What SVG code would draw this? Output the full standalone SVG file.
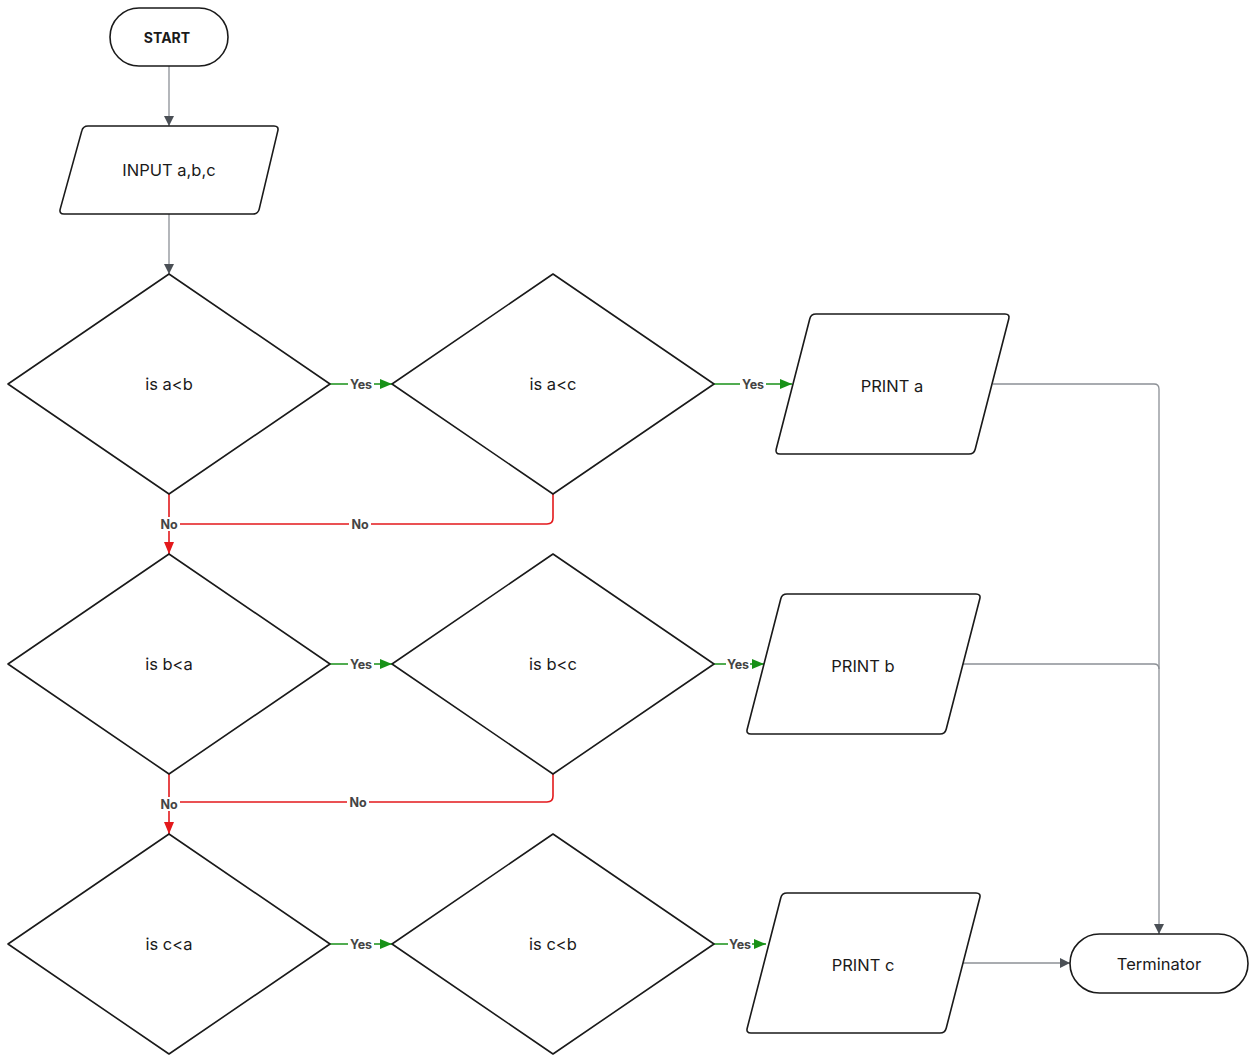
<svg xmlns="http://www.w3.org/2000/svg" width="1256" height="1055" viewBox="0 0 1256 1055">
<defs>
<style>
.node{fill:#fff;stroke:#1a1a1a;stroke-width:1.6;stroke-linejoin:round}
.t{font-family:Inter,"Liberation Sans",sans-serif;font-size:16.5px;fill:#1a1a1a;text-anchor:middle;dominant-baseline:central}
.tb{font-weight:700;font-size:14px}
.g{fill:none;stroke:#8c9096;stroke-width:1.3}
.gr{fill:none;stroke:#179117;stroke-width:1.6}
.rd{fill:none;stroke:#e3191c;stroke-width:1.6}
.lb{font-family:Inter,"Liberation Sans",sans-serif;font-size:12.5px;font-weight:700;fill:#444;text-anchor:middle;dominant-baseline:central}
.bg{fill:#fff}
</style>
<marker id="ag" viewBox="0 0 10 10" refX="10" refY="5" markerWidth="10" markerHeight="10" markerUnits="userSpaceOnUse" orient="auto"><path d="M0,0 L10,5 L0,10 Z" fill="#4a4f55"/></marker>
<marker id="agr" viewBox="0 0 12 10" refX="12" refY="5" markerWidth="12" markerHeight="10" markerUnits="userSpaceOnUse" orient="auto"><path d="M0,0 L12,5 L0,10 Z" fill="#179117"/></marker>
<marker id="ard" viewBox="0 0 12 10" refX="12" refY="5" markerWidth="12" markerHeight="10" markerUnits="userSpaceOnUse" orient="auto"><path d="M0,0 L12,5 L0,10 Z" fill="#e3191c"/></marker>
</defs>
<rect width="1256" height="1055" fill="#fff"/>
<g id="connectors">
<path class="g" d="M169,66 V126" marker-end="url(#ag)"/>
<path class="g" d="M169,214 V274" marker-end="url(#ag)"/>
<path class="gr" d="M330,384 H392" marker-end="url(#agr)"/>
<path class="gr" d="M714,384 H792" marker-end="url(#agr)"/>
<path class="g" d="M993,384 H1154 Q1159,384 1159,389 V934" marker-end="url(#ag)"/>
<path class="rd" d="M169,494 V554" marker-end="url(#ard)"/>
<path class="rd" d="M553,494 V518 Q553,524 547,524 H169"/>
<path class="gr" d="M330,664 H392" marker-end="url(#agr)"/>
<path class="gr" d="M714,664 H764" marker-end="url(#agr)"/>
<path class="g" d="M963,664 H1154 Q1159,664 1159,669"/>
<path class="rd" d="M169,774 V834" marker-end="url(#ard)"/>
<path class="rd" d="M553,774 V796 Q553,802 547,802 H169"/>
<path class="gr" d="M330,944 H392" marker-end="url(#agr)"/>
<path class="gr" d="M714,944 H766" marker-end="url(#agr)"/>
<path class="g" d="M962,963 H1070" marker-end="url(#ag)"/>
<rect class="bg" x="348" y="377" width="26" height="14"/><text class="lb" x="361" y="384">Yes</text>
<rect class="bg" x="740" y="377" width="26" height="14"/><text class="lb" x="753" y="384">Yes</text>
<rect class="bg" x="158" y="517" width="22" height="14"/><text class="lb" x="169" y="524">No</text>
<rect class="bg" x="349" y="517" width="22" height="14"/><text class="lb" x="360" y="524">No</text>
<rect class="bg" x="348" y="657" width="26" height="14"/><text class="lb" x="361" y="664">Yes</text>
<rect class="bg" x="726" y="657" width="24" height="14"/><text class="lb" x="738" y="664">Yes</text>
<rect class="bg" x="158" y="797" width="22" height="14"/><text class="lb" x="169" y="804">No</text>
<rect class="bg" x="347" y="795" width="22" height="14"/><text class="lb" x="358" y="802">No</text>
<rect class="bg" x="348" y="937" width="26" height="14"/><text class="lb" x="361" y="944">Yes</text>
<rect class="bg" x="728" y="937" width="24" height="14"/><text class="lb" x="740" y="944">Yes</text>
</g>
<g id="start"><rect class="node" x="110" y="8" width="118" height="58" rx="29"/><text class="t tb" x="167" y="37">START</text></g>
<g id="input"><path class="node" d="M88,126 H274 Q279,126 277.8,130.9 L259.2,209.1 Q258,214 253,214 H64 Q59,214 60.2,209.1 L81.8,130.9 Q83,126 88,126 Z"/><text class="t" x="169" y="170">INPUT a,b,c</text></g>
<g id="d1"><path class="node" d="M8,384 L169,274 L330,384 L169,494 Z"/><text class="t" x="169" y="384">is a&lt;b</text></g>
<g id="d2"><path class="node" d="M392,384 L553,274 L714,384 L553,494 Z"/><text class="t" x="553" y="384">is a&lt;c</text></g>
<g id="pa"><path class="node" d="M816,314 H1005 Q1010,314 1008.8,318.8 L975.2,449.2 Q974,454 969,454 H780 Q775,454 776.2,449.2 L809.8,318.8 Q811,314 816,314 Z"/><text class="t" x="892" y="386">PRINT a</text></g>
<g id="d3"><path class="node" d="M8,664 L169,554 L330,664 L169,774 Z"/><text class="t" x="169" y="664">is b&lt;a</text></g>
<g id="d4"><path class="node" d="M392,664 L553,554 L714,664 L553,774 Z"/><text class="t" x="553" y="664">is b&lt;c</text></g>
<g id="pb"><path class="node" d="M787,594 H976 Q981,594 979.8,598.8 L946.2,729.2 Q945,734 940,734 H751 Q746,734 747.2,729.2 L780.8,598.8 Q782,594 787,594 Z"/><text class="t" x="863" y="666">PRINT b</text></g>
<g id="d5"><path class="node" d="M8,944 L169,834 L330,944 L169,1054 Z"/><text class="t" x="169" y="944">is c&lt;a</text></g>
<g id="d6"><path class="node" d="M392,944 L553,834 L714,944 L553,1054 Z"/><text class="t" x="553" y="944">is c&lt;b</text></g>
<g id="pc"><path class="node" d="M787,893 H976 Q981,893 979.8,897.8 L946.2,1028.2 Q945,1033 940,1033 H751 Q746,1033 747.2,1028.2 L780.8,897.8 Q782,893 787,893 Z"/><text class="t" x="863" y="965">PRINT c</text></g>
<g id="terminator"><rect class="node" x="1070" y="934" width="178" height="59" rx="29.5"/><text class="t" x="1159" y="964">Terminator</text></g>
</svg>
